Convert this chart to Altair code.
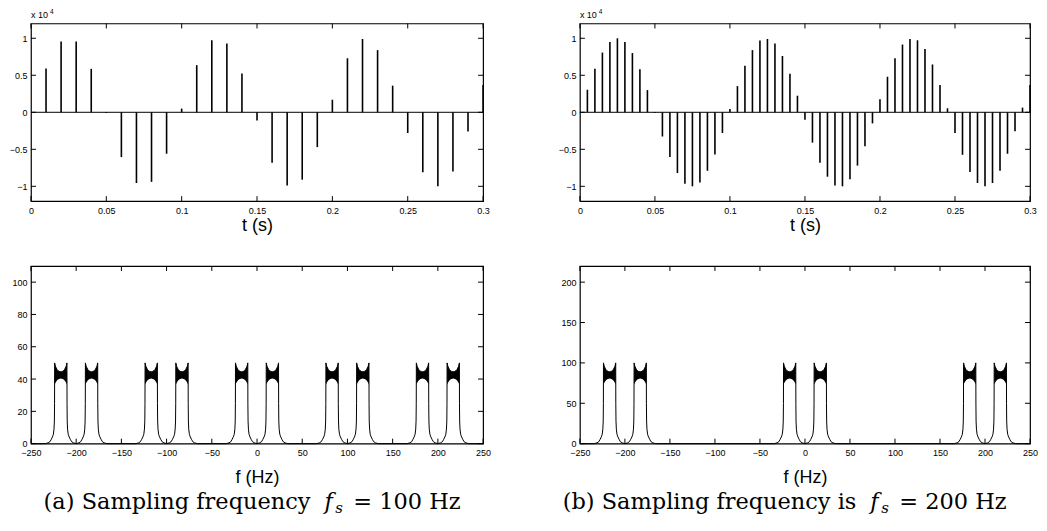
import altair as alt
import pandas as pd

SANS = "Liberation Sans"
SERIF = "DejaVu Serif"

# ---------------- time-domain samples (values in units of 1e4) ----------------
t_a = [0.01, 0.02, 0.03, 0.04, 0.05, 0.06, 0.07, 0.08, 0.09, 0.10,
       0.11, 0.12, 0.13, 0.14, 0.15, 0.16, 0.17, 0.18, 0.19, 0.20,
       0.21, 0.22, 0.23, 0.24, 0.25, 0.26, 0.27, 0.28, 0.29, 0.30]
x_a = [0.59, 0.955, 0.955, 0.587, -0.01, -0.605, -0.955, -0.94, -0.56, 0.05,
       0.637, 0.973, 0.928, 0.525, -0.11, -0.68, -0.99, -0.91, -0.47, 0.17,
       0.73, 0.99, 0.84, 0.36, -0.28, -0.81, -1.0, -0.80, -0.26, 0.37]

t_b = [0.005, 0.010, 0.015, 0.020, 0.025, 0.030, 0.035, 0.040, 0.045, 0.050,
       0.055, 0.060, 0.065, 0.070, 0.075, 0.080, 0.085, 0.090, 0.095, 0.100,
       0.105, 0.110, 0.115, 0.120, 0.125, 0.130, 0.135, 0.140, 0.145, 0.150,
       0.155, 0.160, 0.165, 0.170, 0.175, 0.180, 0.185, 0.190, 0.195, 0.200,
       0.205, 0.210, 0.215, 0.220, 0.225, 0.230, 0.235, 0.240, 0.245, 0.250,
       0.255, 0.260, 0.265, 0.270, 0.275, 0.280, 0.285, 0.290, 0.295, 0.300]
x_b = [0.305, 0.587, 0.807, 0.95, 1.0, 0.95, 0.80, 0.583, 0.30, -0.01,
       -0.327, -0.605, -0.82, -0.964, -1.0, -0.95, -0.79, -0.57, -0.28, 0.045,
       0.354, 0.628, 0.84, 0.97, 0.99, 0.93, 0.76, 0.52, 0.224, -0.10,
       -0.41, -0.68, -0.87, -0.99, -1.0, -0.906, -0.72, -0.46, -0.15, 0.175,
       0.48, 0.73, 0.915, 0.99, 0.973, 0.856, 0.646, 0.368, 0.054, -0.28,
       -0.574, -0.807, -0.955, -1.0, -0.955, -0.79, -0.56, -0.256, 0.063, 0.37]

# ---------------- spectra ----------------
centers_a = [-217, -183, -117, -83, -17, 17, 83, 117, 183, 217]
centers_b = [-217, -183, -17, 17, 183, 217]
edge_f = [-250, 250]
edge_a = [0, 0]

flank_d = [17.0, 14.0, 12.0, 10.5, 9.2, 8.2, 7.5, 7.1, 6.9, 6.8]
flank_a_a = [0, 0.5, 1.2, 2.7, 4.2, 5.8, 9, 14, 25, 50]
flank_a_b = [0, 1.0, 2.4, 5.4, 8.4, 11.6, 18, 28, 50, 100]

band_d = [6.8, 6.0, 5.0, 4.0, 3.0, 2.0, 1.0, 0.0]
band_hi_a = [50, 48, 46.8, 45.8, 45.2, 44.8, 44.6, 44.5]
band_lo_a = [36.5, 37.5, 38.5, 39.2, 39.7, 40.0, 40.2, 40.3]
band_hi_b = [100, 96, 93.6, 91.6, 90.4, 89.6, 89.2, 89]
band_lo_b = [73, 75, 77, 78.4, 79.4, 80, 80.4, 80.6]

# ---------------- axes / text ----------------
t_ticks = [0, 0.05, 0.1, 0.15, 0.2, 0.25, 0.3]
v_ticks = [-1, -0.5, 0, 0.5, 1]
f_ticks = [-250, -200, -150, -100, -50, 0, 50, 100, 150, 200, 250]
a_ticks_a = [0, 20, 40, 60, 80, 100]
a_ticks_b = [0, 50, 100, 150, 200]
mult_label = ["x 10"]
mult_exp = ["4"]
cap_a = ["(a) Sampling frequency", "f", "s", "= 100 Hz"]
cap_b = ["(b) Sampling frequency is", "f", "s", "= 200 Hz"]

WL, WR, H = 453, 451, 178
TK = 5


def tick_layers(xf, xs, xvals, yf, ys, yvals, w, h):
    bx = alt.Chart(pd.DataFrame({xf: xvals})).mark_rule(color="black", strokeWidth=1)
    by = alt.Chart(pd.DataFrame({yf: yvals})).mark_rule(color="black", strokeWidth=1)
    return [
        bx.encode(x=xs, y=alt.value(h), y2=alt.value(h - TK)),
        bx.encode(x=xs, y=alt.value(0), y2=alt.value(TK)),
        by.encode(y=ys, x=alt.value(0), x2=alt.value(TK)),
        by.encode(y=ys, x=alt.value(w - TK), x2=alt.value(w)),
    ]


def time_panel(t, x, w):
    df = pd.DataFrame({"t": t, "v": x})
    xs = alt.X("t:Q", scale=alt.Scale(domain=[0, 0.3], nice=False, zero=False),
               axis=alt.Axis(values=t_ticks, format="~g", title="t (s)", titlePadding=1,
                             labelPadding=5))
    ys = alt.Y("v:Q", scale=alt.Scale(domain=[-1.2, 1.2], nice=False),
               axis=alt.Axis(values=v_ticks, format="~g", title=None))
    stems = alt.Chart(df).mark_rule(color="black", strokeWidth=1.6).encode(
        x=xs, y=ys, y2=alt.datum(0))
    base = alt.Chart(pd.DataFrame({"v": [0]})).mark_rule(color="black", strokeWidth=1).encode(
        y=ys, x=alt.value(0), x2=alt.value(w))
    m1 = alt.Chart(pd.DataFrame({"s": mult_label})).mark_text(
        font=SANS, fontSize=9, align="left", baseline="alphabetic", color="black").encode(
        text="s:N", x=alt.value(0), y=alt.value(-5.5))
    m2 = alt.Chart(pd.DataFrame({"s": mult_exp})).mark_text(
        font=SANS, fontSize=6.5, align="left", baseline="alphabetic", color="black").encode(
        text="s:N", x=alt.value(19), y=alt.value(-9))
    layers = [stems, base] + tick_layers("t", xs, t_ticks, "v", ys, v_ticks, w, H) + [m1, m2]
    return alt.layer(*layers).properties(width=w, height=H)


def spec_rows(centers, flank_a, hi_a):
    rows = []
    k = 0
    rows.append({"f": edge_f[0], "a": edge_a[0], "k": k}); k += 1
    for c in centers:
        for d, a in zip(flank_d, flank_a):
            rows.append({"f": c - d, "a": a, "k": k}); k += 1
        for d, a in zip(band_d[1:], hi_a[1:]):
            rows.append({"f": c - d, "a": a, "k": k}); k += 1
        for d, a in zip(band_d[::-1][1:], hi_a[::-1][1:]):
            rows.append({"f": c + d, "a": a, "k": k}); k += 1
        for d, a in zip(flank_d[::-1], flank_a[::-1]):
            rows.append({"f": c + d, "a": a, "k": k}); k += 1
    rows.append({"f": edge_f[1], "a": edge_a[1], "k": k})
    return pd.DataFrame(rows)


def band_rows(centers, hi_a, lo_a):
    rows = []
    for i, c in enumerate(centers):
        for d, hi, lo in zip(band_d, hi_a, lo_a):
            rows.append({"f": c - d, "a": hi, "lo": lo, "h": i})
        for d, hi, lo in zip(band_d[::-1][1:], hi_a[::-1][1:], lo_a[::-1][1:]):
            rows.append({"f": c + d, "a": hi, "lo": lo, "h": i})
    return pd.DataFrame(rows)


def caption_layers(cap, xs_):
    out = []
    specs = [
        dict(align="right", fontStyle="normal", fontSize=22.5, dy=0),
        dict(align="left", fontStyle="italic", fontSize=22.5, dy=0),
        dict(align="left", fontStyle="italic", fontSize=15, dy=4),
        dict(align="left", fontStyle="normal", fontSize=22.5, dy=0),
    ]
    for txt, px, sp in zip(cap, xs_, specs):
        out.append(alt.Chart(pd.DataFrame({"s": [txt]})).mark_text(
            font=SERIF, fontSize=sp["fontSize"], fontStyle=sp["fontStyle"], align=sp["align"],
            baseline="alphabetic", color="black").encode(
            text="s:N", x=alt.value(px), y=alt.value(243 + sp["dy"])))
    return out


def spec_panel(centers, flank_a, hi_a, lo_a, ymax, a_ticks, w, cap, cap_x):
    line_df = spec_rows(centers, flank_a, hi_a)
    band_df = band_rows(centers, hi_a, lo_a)
    xs = alt.X("f:Q", scale=alt.Scale(domain=[-250, 250], nice=False, zero=False),
               axis=alt.Axis(values=f_ticks, format="d", title="f (Hz)", titlePadding=11,
                             labelPadding=5))
    ys = alt.Y("a:Q", scale=alt.Scale(domain=[0, ymax], nice=False),
               axis=alt.Axis(values=a_ticks, format="d", title=None))
    line = alt.Chart(line_df).mark_line(color="black", strokeWidth=1).encode(
        x=xs, y=ys, order="k:Q")
    band = alt.Chart(band_df).mark_area(color="black", opacity=1).encode(
        x=xs, y=ys, y2="lo:Q", detail="h:N")
    layers = [line, band] + tick_layers("f", xs, f_ticks, "a", ys, a_ticks, w, H) + caption_layers(cap, cap_x)
    return alt.layer(*layers).properties(width=w, height=H)


TL = time_panel(t_a, x_a, WL)
TR = time_panel(t_b, x_b, WR)
BL = spec_panel(centers_a, flank_a_a, band_hi_a, band_lo_a, 110, a_ticks_a, WL,
                cap_a, [280, 294, 305, 323])
BR = spec_panel(centers_b, flank_a_b, band_hi_b, band_lo_b, 220, a_ticks_b, WR,
                cap_b, [277, 291, 302, 320])

chart = alt.concat(TL, TR, BL, BR, columns=2, spacing={"row": 65, "column": 97},
                   bounds="flush").properties(
    padding={"left": 0, "top": 0, "right": 0, "bottom": 0},
    background="white",
).configure_view(stroke="black", strokeWidth=1.2).configure_axis(
    labelFont=SANS, labelFontSize=9, labelColor="black",
    titleFont=SANS, titleFontSize=18, titleFontWeight="normal", titleColor="black",
    grid=False, ticks=False, domain=False, labelPadding=4,
    labelFlush=False, labelOverlap=False, labelBound=False,
)

chart.save("out.html", embed_options={"renderer": "svg", "actions": False})
